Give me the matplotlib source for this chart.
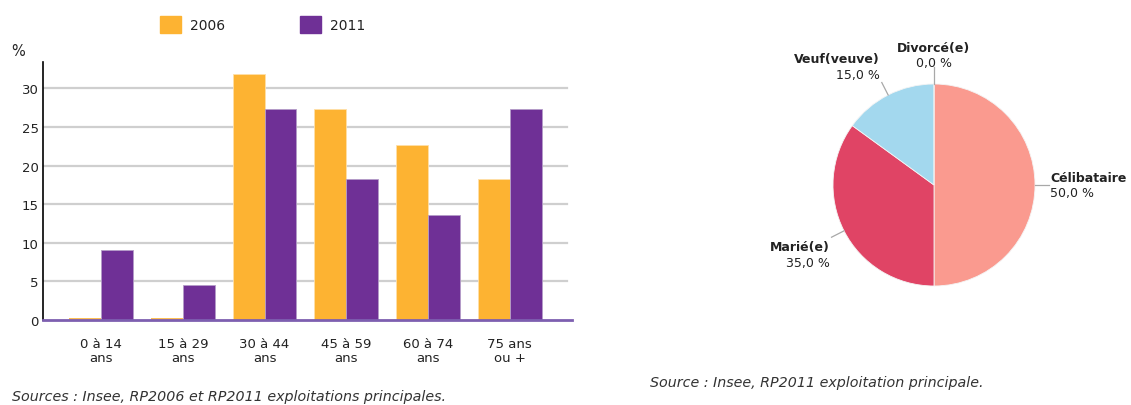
import matplotlib
matplotlib.use("Agg")
import matplotlib.pyplot as plt
import numpy as np

# ---- data ----
age_groups = ["0 à 14\nans", "15 à 29\nans", "30 à 44\nans", "45 à 59\nans", "60 à 74\nans", "75 ans\nou +"]
series_names = ["2006", "2011"]
values_2006 = [0.0, 0.0, 31.8, 27.3, 22.7, 18.2]
values_2011 = [9.1, 4.5, 27.3, 18.2, 13.6, 27.3]
y_ticks = [0, 5, 10, 15, 20, 25, 30]

status_labels = ["Célibataire", "Marié(e)", "Veuf(veuve)", "Divorcé(e)"]
status_values = [50.0, 35.0, 15.0, 0.0]

source_left = "Sources : Insee, RP2006 et RP2011 exploitations principales."
source_right = "Source : Insee, RP2011 exploitation principale."

# ---- style ----
plt.rcParams['font.family'] = ['DejaVu Sans']
W, H = 1131, 406
fig = plt.figure(figsize=(W / 100, H / 100), dpi=100)

c2006 = "#FDB332"
c2011 = "#6F3096"
txt = "#222222"

def px_axes(x0, y0, x1, y1):
    # pixel coords with top-left origin
    return fig.add_axes([x0 / W, 1 - y1 / H, (x1 - x0) / W, (y1 - y0) / H])

# ---- bar chart ----
ax = px_axes(43, 63, 572, 321)
x = np.arange(len(age_groups))
bw = 0.39
ax.bar(x - bw / 2, values_2006, width=bw, color=c2006, edgecolor="#FFE0A8", linewidth=0.6, zorder=3)
ax.bar(x + bw / 2, values_2011, width=bw, color=c2011, edgecolor="#B49CC8", linewidth=0.6, zorder=3)
# thin marks for zero-valued 2006 bars
for xi, v in zip(x, values_2006):
    if v == 0:
        ax.plot([xi - bw, xi], [0.15, 0.15], color=c2006, linewidth=1.2, zorder=5, solid_capstyle="butt")
ax.set_xlim(-0.71, 5.76)
ax.set_ylim(0, 33.4)
ax.set_yticks(y_ticks)
ax.set_yticklabels([str(t) for t in y_ticks], fontsize=9.5, color=txt)
ax.set_xticks(x)
ax.set_xticklabels(age_groups, fontsize=9.5, color=txt, linespacing=1.15)
ax.tick_params(axis='y', length=0, pad=3)
ax.tick_params(axis='x', length=0, pad=12)
for yv in y_ticks[1:]:
    ax.axhline(yv, xmin=0, xmax=(567 - 43) / (572 - 43), color="#CFCFCF", linewidth=1.6, zorder=1)
for s in ["top", "right"]:
    ax.spines[s].set_visible(False)
ax.spines["left"].set_color("#000000")
ax.spines["left"].set_linewidth(1.2)
ax.spines["bottom"].set_color("#7D5FB0")
ax.spines["bottom"].set_linewidth(2)
ax.spines["bottom"].set_zorder(6)

fig.text(11 / W, 1 - 52 / H, "%", fontsize=10.5, color=txt, va="center", ha="left")

# legend
for name, col, lx in [(series_names[0], c2006, 160), (series_names[1], c2011, 300)]:
    fig.patches.append(plt.Rectangle((lx / W, 1 - 34 / H), 21 / W, 17 / H,
                                     transform=fig.transFigure, color=col))
    fig.text((lx + 30) / W, 1 - 26 / H, name, fontsize=10, color=txt, va="center", ha="left")

fig.text(12 / W, 1 - 397 / H, source_left, fontsize=10.3, style="italic", color="#333333",
         va="center", ha="left")

# ---- pie chart ----
cx, cy, half = 934, 186, 150
pax = px_axes(cx - half, cy - half, cx + half, cy + half)
pie_colors = ["#FA9A8F", "#E04465", "#A3D8EE", "#C0C0C0"]
pax.pie(status_values, colors=pie_colors, startangle=90, counterclock=False, radius=1.01,
        wedgeprops=dict(linewidth=0.6, edgecolor="#F4F4F4"))
pax.set_xlim(-1.5, 1.5)
pax.set_ylim(-1.5, 1.5)
pax.set_aspect("equal")
pax.axis("off")

total = sum(status_values)
start = 90.0
label_cfg = {
    # name: (text x, text y of first line, ha)
    "Célibataire": (1.16, 0.075, "left"),
    "Marié(e)": (-1.04, -0.62, "right"),
    "Veuf(veuve)": (-0.54, 1.26, "right"),
    "Divorcé(e)": (0.0, 1.38, "center"),
}
for name, val in zip(status_labels, status_values):
    span = 360.0 * val / total
    mid = np.deg2rad(start - span / 2)
    start -= span
    p0 = (1.01 * np.cos(mid), 1.01 * np.sin(mid))
    p1 = (1.15 * np.cos(mid), 1.15 * np.sin(mid))
    if name == "Divorcé(e)":
        p1 = (0.0, 1.18)
    pax.plot([p0[0], p1[0]], [p0[1], p1[1]], color="#A8A8A8", linewidth=0.9, clip_on=False)
    tx, ty, ha = label_cfg[name]
    pax.text(tx, ty, name, fontsize=9, fontweight="bold", color=txt, ha=ha, va="center")
    pax.text(tx, ty - 0.155, f"{val:.1f} %".replace(".", ","), fontsize=9, color=txt,
             ha=ha, va="center")

fig.text(650 / W, 1 - 383 / H, source_right, fontsize=10.3, style="italic", color="#333333",
         va="center", ha="left")

fig.savefig("out.png", dpi=100)
